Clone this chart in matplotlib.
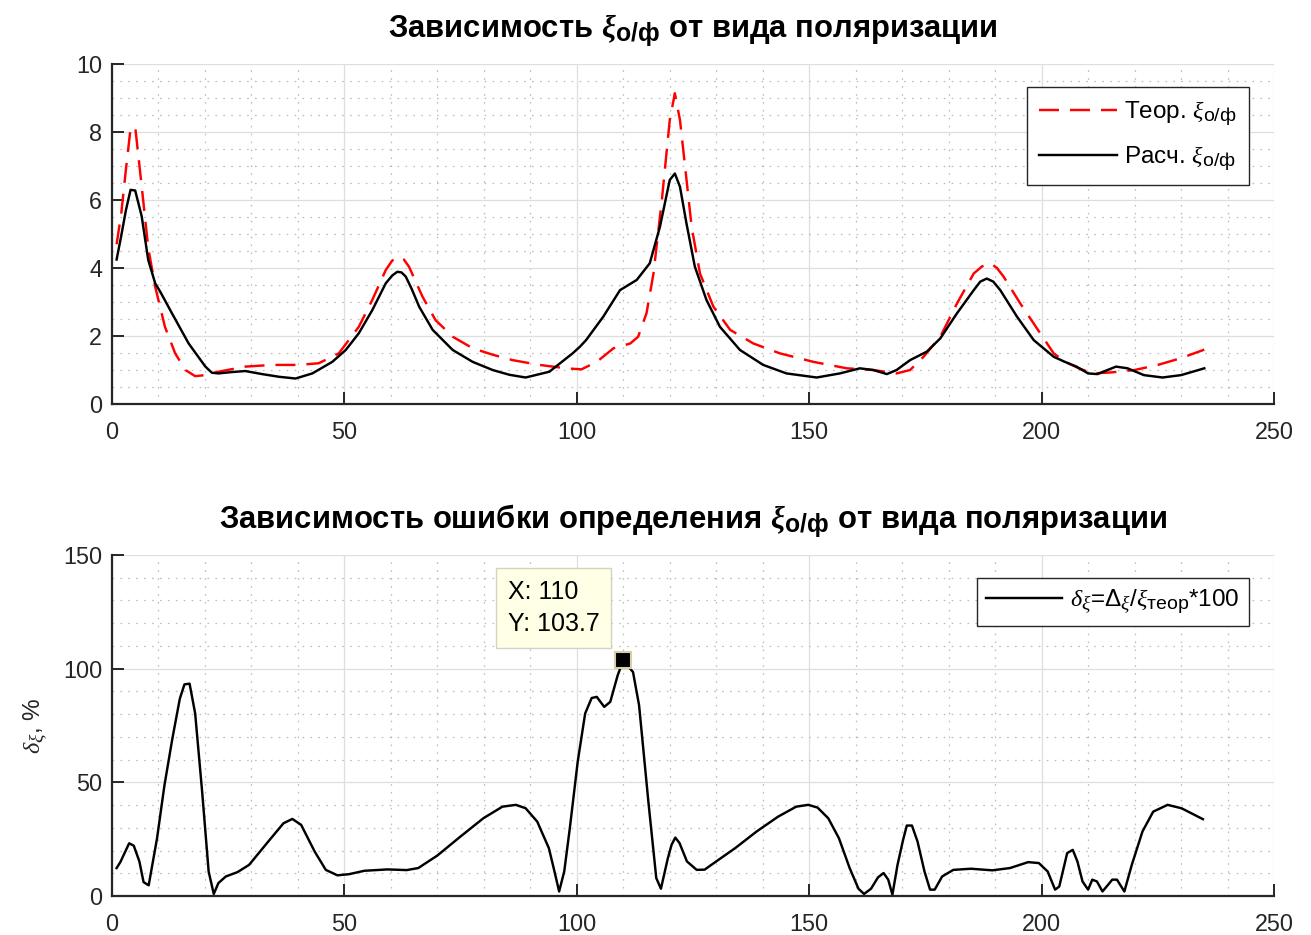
import matplotlib
matplotlib.use("Agg")
import matplotlib.pyplot as plt
import matplotlib._mathtext as mathtext_core
from matplotlib.ticker import MultipleLocator

plt.rcParams['font.family'] = ['Liberation Sans', 'DejaVu Sans']
plt.rcParams['mathtext.fontset'] = 'custom'
plt.rcParams['mathtext.rm'] = 'Liberation Sans'
plt.rcParams['mathtext.it'] = 'Liberation Serif:italic'
plt.rcParams['mathtext.bf'] = 'Liberation Sans:bold'
plt.rcParams['mathtext.bfit'] = 'Liberation Serif:italic:bold'
plt.rcParams['lines.scale_dashes'] = False
# larger subscripts, closer to TeX-interpreter style labels
mathtext_core.SHRINK_FACTOR = 0.8

# Theoretical xi_o/f versus polarisation index
teor_x = [1, 2, 3, 4, 5, 6.4, 7.8, 9.3, 11.4, 13.6, 15.8, 17.9, 20.1, 22.9, 28.7,
          34.4, 40.2, 44.5, 48.8, 53.1, 56, 58.9, 60.3, 61.7, 62.8, 63.9, 66.8,
          69.6, 73.3, 77.6, 81.9, 86.2, 92, 97.7, 101, 104.3, 107.9, 111.5, 113.2,
          115, 116.5, 118.3, 120, 121.1, 122.2, 123.3, 124.7, 126.5, 129.4, 133,
          138, 143.7, 150.9, 158.1, 163.8, 168.8, 171.7, 174.6, 178.2, 181.8,
          185.4, 187.2, 189, 190.4, 191.8, 195.4, 199.7, 202.6, 205, 208, 211,
          215, 220, 225, 230, 235]
teor_y = [4.7, 5.6, 6.9, 8.1, 8.15, 6.4, 4.6, 3.45, 2.27, 1.49, 1.0, 0.82, 0.85,
          0.95, 1.1, 1.15, 1.15, 1.2, 1.49, 2.27, 3.06, 3.94, 4.22, 4.33, 4.25,
          4.04, 3.16, 2.47, 1.98, 1.64, 1.45, 1.29, 1.15, 1.05, 1.02, 1.24, 1.64,
          1.78, 1.98, 2.67, 3.84, 6.0, 8.35, 9.14, 8.35, 6.98, 5.22, 3.84, 2.86,
          2.18, 1.78, 1.49, 1.24, 1.05, 1.0, 0.9, 1.0, 1.39, 1.98, 2.96, 3.84,
          4.05, 4.14, 4.0, 3.75, 2.96, 2.08, 1.49, 1.25, 1.05, 0.9, 0.93, 1.0,
          1.15, 1.35, 1.6]

# Computed xi_o/f
calc_x = [1, 2, 3, 4, 5, 6.4, 7.8, 9.3, 10.4, 12.9, 16.5, 20.1, 21.5, 22.9, 25.8,
          28.7, 32.3, 36, 39.5, 43.1, 47.4, 50.3, 53.1, 56, 58.9, 60.3, 61.4,
          62.3, 63.2, 64.5, 66.1, 69, 73.3, 77.6, 81.9, 85.5, 89, 94.1, 99.1,
          100.7, 102, 105.7, 109.3, 112.9, 115.7, 117.9, 120, 121.1, 122.2,
          123.6, 125.4, 127.9, 130.8, 135.1, 140.1, 145.1, 151.6, 156.6, 160.9,
          163.8, 166.7, 168.8, 171.7, 175.3, 178.2, 181.8, 185.4, 186.8, 188.2,
          189.6, 191.1, 194.7, 198.3, 202.6, 205, 207.5, 210, 212, 216, 218.5,
          222, 226, 230, 235]
calc_y = [4.25, 4.95, 5.7, 6.3, 6.28, 5.52, 4.24, 3.55, 3.3, 2.67, 1.78, 1.1,
          0.92, 0.9, 0.94, 0.97, 0.88, 0.8, 0.75, 0.9, 1.24, 1.59, 2.08, 2.76,
          3.55, 3.78, 3.89, 3.87, 3.75, 3.38, 2.86, 2.18, 1.59, 1.24, 1.0, 0.86,
          0.78, 0.95, 1.49, 1.69, 1.88, 2.57, 3.35, 3.65, 4.14, 5.22, 6.59, 6.78,
          6.39, 5.31, 4.04, 3.06, 2.27, 1.59, 1.15, 0.9, 0.78, 0.9, 1.05, 1.0,
          0.88, 1.0, 1.29, 1.54, 1.93, 2.67, 3.35, 3.6, 3.69, 3.6, 3.35, 2.57,
          1.88, 1.39, 1.24, 1.1, 0.9, 0.88, 1.1, 1.05, 0.85, 0.78, 0.85, 1.05]

# Relative error, %
err_x = [1, 1.8, 3.7, 4.7, 5.9, 6.8, 7.9, 9.7, 11.3, 13, 14.6, 15.6, 16.7, 17.9,
         19.4, 20.8, 21.9, 22.9, 24.5, 27, 29.5, 33.6, 36.9, 38.8, 40.7, 43.6,
         46, 48.5, 51, 54.3, 59.3, 63.4, 65.9, 70, 75, 79.9, 84, 86.9, 89, 91.5,
         94, 95.2, 96.2, 97.3, 98.5, 100.2, 101.8, 103.2, 104.3, 105.9, 107.2,
         108.8, 110, 112.1, 113.4, 115.4, 117.1, 118.1, 119.6, 120.4, 121.2,
         122.1, 123.7, 125.8, 127.5, 129.5, 134.1, 138.7, 143.3, 147.2, 149.8,
         151.8, 154.1, 156.4, 158.7, 160.6, 161.8, 163.3, 164.8, 166, 167, 167.9,
         169, 170.2, 171, 172.1, 173.3, 174.8, 176, 177, 178.6, 181, 184.8, 189.4,
         193.2, 197.1, 199.4, 201.3, 202.9, 203.8, 205.5, 206.7, 207.7, 208.8,
         210, 210.9, 211.9, 213.1, 214, 215.2, 216.2, 217.8, 219.4, 221.7, 224,
         227.1, 230.1, 234.7]
err_y = [12.3, 14.9, 23.2, 22.1, 15.2, 6.1, 4.7, 25.4, 48.8, 69.3, 86.8, 93.1,
         93.4, 80.3, 45.9, 10.8, 0.9, 5.7, 8.6, 10.5, 13.7, 23.9, 32, 33.9, 31.3,
         19.6, 11.5, 9.1, 9.6, 11.1, 11.7, 11.4, 12.3, 17.8, 26.2, 34.2, 39.3,
         40.1, 38.6, 32.7, 21, 10.8, 2.0, 10.8, 29.8, 59.1, 80.3, 87.1, 87.6, 83.2,
         85.4, 97.1, 103.7, 98.5, 83.9, 41.5, 7.9, 3.2, 16.7, 22.6, 25.7, 23.3,
         15.2, 11.5, 11.6, 14.5, 21.1, 28.4, 34.9, 39.3, 40.1, 38.9, 34.2, 25.4,
         12.3, 3.2, 0.9, 3.2, 8.2, 10.1, 7.2, 0.6, 13.7, 24.7, 31, 31, 24, 10.8,
         2.8, 2.8, 8.6, 11.5, 12, 11.3, 12.3, 14.9, 14.5, 10.8, 2.8, 4.2, 18.9,
         20.3, 15.2, 6.4, 2.8, 7.2, 6.4, 2.0, 4.2, 7.2, 7.2, 2.0, 13.7, 28.4, 37.1,
         40.1, 38.6, 33.8]

tip_x, tip_y = 110, 103.7

AX_COLOR = '#262626'
TICK_FS = 16.8
LEG_FS = 17.5
TITLE_FS = 22.3
LW = 1.75


def style_axes(ax, ymax, ystep, yminor):
    ax.set_xlim(0, 250)
    ax.set_ylim(0, ymax)
    ax.xaxis.set_major_locator(MultipleLocator(50))
    ax.xaxis.set_minor_locator(MultipleLocator(10))
    ax.yaxis.set_major_locator(MultipleLocator(ystep))
    ax.yaxis.set_minor_locator(MultipleLocator(yminor))
    ax.grid(which='major', color='#dedede', lw=0.9, ls='-')
    ax.grid(which='minor', color='#bdbdbd', lw=0.9, ls=(0, (1.2, 4.5)))
    ax.set_axisbelow(True)
    for s in ('top', 'right'):
        ax.spines[s].set_visible(False)
    for s in ('left', 'bottom'):
        ax.spines[s].set_color(AX_COLOR)
        ax.spines[s].set_linewidth(1.6)
    ax.tick_params(which='major', direction='in', length=8.6, width=1.4,
                   color=AX_COLOR, labelcolor=AX_COLOR, labelsize=TICK_FS)
    ax.tick_params(axis='x', which='major', pad=12)
    ax.tick_params(axis='y', which='major', pad=7)
    ax.tick_params(which='minor', length=0)


fig = plt.figure(figsize=(13.11, 9.35), dpi=100)
ax1 = fig.add_axes([0.0854, 0.5679, 0.8864, 0.3636])
ax2 = fig.add_axes([0.0854, 0.0417, 0.8864, 0.3647])

# Upper panel
style_axes(ax1, 10, 2, 0.5)
ax1.plot(teor_x, teor_y, color='#ff0000', lw=LW, dashes=(14.4, 7.9),
         label=r'Теор. $\xi_{\mathrm{о/ф}}$')
ax1.plot(calc_x, calc_y, color='black', lw=LW, label=r'Расч. $\xi_{\mathrm{о/ф}}$')
ax1.set_title(r'Зависимость $\mathbfit{\xi}_{\mathbf{о/ф}}$ от вида поляризации',
              fontsize=TITLE_FS, fontweight='bold', pad=20)
leg1 = ax1.legend(loc='upper right', bbox_to_anchor=(0.9785, 0.932),
                  borderaxespad=0, fontsize=LEG_FS, fancybox=False, framealpha=1,
                  edgecolor=AX_COLOR, handlelength=3.2, handletextpad=0.3,
                  labelspacing=0.7, borderpad=0.5)
leg1.get_frame().set_linewidth(1.0)

# Lower panel
style_axes(ax2, 150, 50, 10)
ax2.plot(err_x, err_y, color='black', lw=LW,
         label=r'$\delta_{\xi}$=$\Delta_{\xi}$/$\xi_{\mathrm{теор}}$*100')
ax2.plot([tip_x], [tip_y], marker='s', ms=12, mfc='black', mec='#d6d0a2',
         mew=1.5, ls='none')
ax2.annotate(f'X: {tip_x}\nY: {tip_y}', xy=(tip_x, tip_y), xytext=(-24, 24),
             textcoords='offset pixels', ha='right', va='bottom',
             multialignment='left', fontsize=18, linespacing=1.45, color='black',
             bbox=dict(boxstyle='square,pad=0.45', fc='#ffffe6', ec='#d3d3c4', lw=1))
ax2.set_title(r'Зависимость ошибки определения $\mathbfit{\xi}_{\mathbf{о/ф}}$ от вида поляризации',
              fontsize=TITLE_FS, fontweight='bold', pad=20)
ax2.set_ylabel(r'$\delta_{\xi}$, %', fontsize=17.5, color=AX_COLOR, labelpad=10)
leg2 = ax2.legend(loc='upper right', bbox_to_anchor=(0.9785, 0.9326),
                  borderaxespad=0, fontsize=LEG_FS, fancybox=False, framealpha=1,
                  edgecolor=AX_COLOR, handlelength=3.1, handletextpad=0.33,
                  borderpad=0.4)
leg2.get_frame().set_linewidth(1.0)

fig.savefig('out.png', dpi=100)
